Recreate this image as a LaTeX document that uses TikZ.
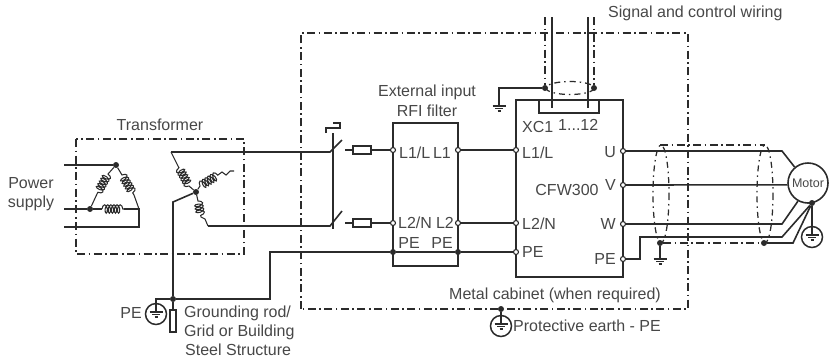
\documentclass[tikz,border=0pt]{standalone}
\usepackage{fontspec}
\setmainfont{Liberation Sans}
\usetikzlibrary{decorations.pathmorphing,shapes.geometric}
\definecolor{ink}{gray}{0.17}
\definecolor{txt}{gray}{0.28}
\tikzset{
  wire/.style={draw=ink,line width=1.6pt,line join=miter},
  thin wire/.style={draw=ink,line width=1.25pt},
  coilw/.style={draw=ink,line width=1.05pt},
  dashdot/.style={draw=ink,line width=1.4pt,dash pattern=on 8pt off 3.5pt on 1.6pt off 3.5pt},
  sdash/.style={draw=ink,line width=1.25pt,dash pattern=on 6pt off 4pt on 1.5pt off 4pt},
  lab/.style={inner sep=0pt,text=txt,font=\fontsize{16}{18}\selectfont},
  labl/.style={lab,anchor=base west},
  labr/.style={lab,anchor=base east},
  labc/.style={lab,anchor=base},
  term/.style={circle,draw=ink,fill=white,line width=1.1pt,minimum size=5pt,inner sep=0pt},
  jdot/.style={circle,fill=ink,minimum size=6pt,inner sep=0pt},
  boxn/.style={draw=ink,line width=1.6pt,rectangle,inner sep=0pt},
  coilst/.style={decoration={coil,aspect=0.45,segment length=3.1pt,amplitude=4.2pt}},
  earthc/.style={circle,draw=ink,line width=1.5pt,minimum size=21pt,inner sep=0pt},
  pics/gndsym/.style={code={
    \draw[ink,line width=1.4pt] (-6.5,0)--(6.5,0);
    \draw[ink,line width=1.4pt] (-4,2.6)--(4,2.6);
    \draw[ink,line width=1.4pt] (-1.5,5)--(1.5,5);
  }},
}
\begin{document}
\begin{tikzpicture}[x=1pt,y=-1pt]
\useasboundingbox (0,0) rectangle (829,360);
% boxes
\draw[dashdot] (76,139) rectangle (244,254);
\draw[dashdot] (545,17) -- (545,33) (301,309) -- (301,33) -- (688,33) -- (688,309) -- cycle;
\node[boxn,minimum width=65pt,minimum height=143pt] (filter) at (425.5,194.5) {};
\node[boxn,minimum width=107pt,minimum height=177pt] (drive) at (569.5,188.5) {};
\node[boxn,fill=white,minimum width=60pt,minimum height=13pt] (xc) at (569,106.5) {};
\node[draw=ink,line width=1.6pt,circle,minimum size=40pt,inner sep=0pt,text=txt,font=\fontsize{12.5}{14}\selectfont] (motor) at (808,183) {Motor};
% primary
\coordinate (pa) at (64,165); \coordinate (pb) at (64,209); \coordinate (pc) at (64,227);
\node[jdot] (d1) at (116,165) {};
\node[jdot] (d2) at (90,209) {};
\coordinate (d3) at (139,209);
\coordinate (d4) at (139,227);
\draw[thin wire] (pa) -- (d1);
\draw[wire] (pb) -- (d2);
\draw[wire] (d2) -- (102,209);
\draw[coilw] (102,209) decorate[coilst]{-- (124,209)};
\draw[wire] (124,209) -- (d3) -- (d4) -- (pc);
\draw[coilw] (d1) -- (108,174) decorate[coilst]{-- (97,194)} -- (d2);
\draw[coilw] (d1) -- (122,175) decorate[coilst]{-- (134,195)} -- (d3);
% secondary
\node[jdot] (st) at (196,192) {};
\coordinate (s1) at (171,152); \coordinate (s3) at (208,226);
\coordinate (sw1) at (330,152); \coordinate (sw1b) at (342,140);
\coordinate (sw2) at (330,226); \coordinate (sw2b) at (342,211);
\draw[coilw] (st) -- (189,186) decorate[coilst]{-- (178,166)} -- (s1);
\draw[wire] (s1) -- (sw1) -- (sw1b);
\draw[coilw] (st) -- (200,186) decorate[coilst]{-- (218,175)} -- (222,172) -- (226,175) -- (230,171) -- (234,171);
\draw[coilw] (st) -- (198,201) decorate[coilst]{-- (201,217)} -- (205,219) -- (s3);
\draw[wire] (s3) -- (sw2) -- (sw2b);
% earth of transformer
\node[jdot] (gj) at (173,299) {};
\coordinate (gk) at (173,202);
\draw[wire] (st) -- (gk) -- (gj);
\node[earthc] (pe1) at (156,314) {};
\draw[wire] (gj) -- (156,299) -- (156,311);
\pic at (156,312) {gndsym};
\node[boxn,minimum width=6pt,minimum height=22pt] (rod) at (173,321) {};
\draw[wire] (gj) -- (rod.north);
% switches
\coordinate (swt) at (333,133);
\draw[wire] (swt) -- (333,156);
\draw[thin wire] (333,156) -- (333,229);
\draw[thin wire] (326,133) -- (326,128) -- (340,128) -- (340,123) -- (333,123);
% fuses and L lines
\node[term] (f1i) at (393,150) {};
\node[term] (f1o) at (458,150) {};
\node[term] (f2i) at (393,223) {};
\node[term] (f2o) at (458,223) {};
\node[term] (dL1) at (516,150) {};
\node[term] (dL2) at (516,223) {};
\node[term] (dPE) at (516,252) {};
\coordinate (fa) at (345,150); \coordinate (fb) at (345,223);
\draw[wire] (fa) -- (f1i);
\draw[wire] (fb) -- (f2i);
\node[boxn,line width=1.2pt,fill=white,minimum width=18pt,minimum height=8pt] (fuse1) at (362,150) {};
\node[boxn,line width=1.2pt,fill=white,minimum width=18pt,minimum height=8pt] (fuse2) at (362,223) {};
\draw[wire] (f1o) -- (dL1);
\draw[wire] (f2o) -- (dL2);
% PE line
\node[jdot] (fp1) at (393,252) {};
\node[jdot] (fp2) at (458,252) {};
\draw[wire] (gj) -- (270,299) -- (270,252) -- (fp1) -- (fp2) -- (dPE);
% control wires
\coordinate (c1t) at (552,17); \coordinate (c2t) at (588,17);
\coordinate (c1b) at (552,108); \coordinate (c2b) at (588,108);
\draw[wire] (c1t) -- (c1b);
\draw[wire] (c2t) -- (c2b);
\node[jdot] (cs1) at (545,88) {};
\node[jdot] (cs2) at (594,88) {};
\draw[dashdot] (545,33) -- (cs1);
\draw[dashdot] (594,17) -- (cs2);
\draw[sdash] (570,88) ellipse (24 and 6.5);
\draw[wire] (cs1) -- (499,88) -- (499,106);
\pic at (499,106) {gndsym};
% outputs
\node[term] (oU) at (623,151) {};
\node[term] (oV) at (623,185) {};
\node[term] (oW) at (623,224) {};
\node[term] (oP) at (623,259) {};
\draw[wire] (oU) -- (782,151) -- (motor.130);
\draw[wire] (oV) -- (motor.185);
\draw[wire] (oW) -- (782,224) -- (motor.241);
\node[jdot] (mg) at (812,203) {};
\draw[wire] (oP) -- (640,259) -- (640,237) -- (782,237) -- (mg);
% shields
\node[jdot] (sh1) at (660,243) {};
\node[jdot] (sh2) at (764,243) {};
\draw[sdash] (661,194) ellipse (8 and 49);
\draw[sdash] (765,194) ellipse (8 and 49);
\draw[dashdot] (660,145) -- (765,145);
\draw[dashdot] (sh1) -- (sh2);
\draw[wire] (sh2) -- (793,243) -- (mg);
\draw[wire] (sh1) -- (660,259);
\pic at (660,259) {gndsym};
\node[earthc] (pe3) at (812,237) {};
\draw[wire] (mg) -- (812,235);
\pic at (812,235) {gndsym};
% cabinet earth
\node[jdot] (cb) at (501,309) {};
\node[earthc] (pe2) at (501,326) {};
\draw[wire] (cb) -- (501,324);
\pic at (501,324) {gndsym};
% labels
\node[labc] (t1) at (31,188) {Power};
\node[labc] (t2) at (31,207) {supply};
\node[labc] (t3) at (160,130) {Transformer};
\node[labc] (t4) at (427,96) {External input};
\node[labc] (t5) at (427,116) {RFI filter};
\node[labl] (t6) at (399,158) {L1/L};
\node[labr] (t7) at (451,158) {L1};
\node[labl] (t8) at (398,228) {L2/N};
\node[labr] (t9) at (454,228) {L2};
\node[labc] (t10) at (409,248) {PE};
\node[labc] (t11) at (442,248) {PE};
\node[labl] (t12) at (522,158) {L1/L};
\node[labl] (t13) at (522,229) {L2/N};
\node[labl] (t14) at (522,257) {PE};
\node[labl] (t15) at (522,132) {XC1};
\node[labl] (t16) at (558,130) {1...12};
\node[labc] (t17) at (567,195) {CFW300};
\node[labr] (t18) at (616,157) {U};
\node[labr] (t19) at (616,190) {V};
\node[labr] (t20) at (616,229) {W};
\node[labr] (t21) at (616,264) {PE};
\node[labl] (t22) at (449,299) {Metal cabinet (when required)};
\node[labl] (t23) at (513,331) {Protective earth - PE};
\node[labr] (t24) at (142,318) {PE};
\node[labl] (t25) at (184,317) {Grounding rod/};
\node[labl] (t26) at (184,336) {Grid or Building};
\node[labl] (t27) at (185,355) {Steel Structure};
\node[labl] (t28) at (608,17) {Signal and control wiring};
\end{tikzpicture}
\end{document}
